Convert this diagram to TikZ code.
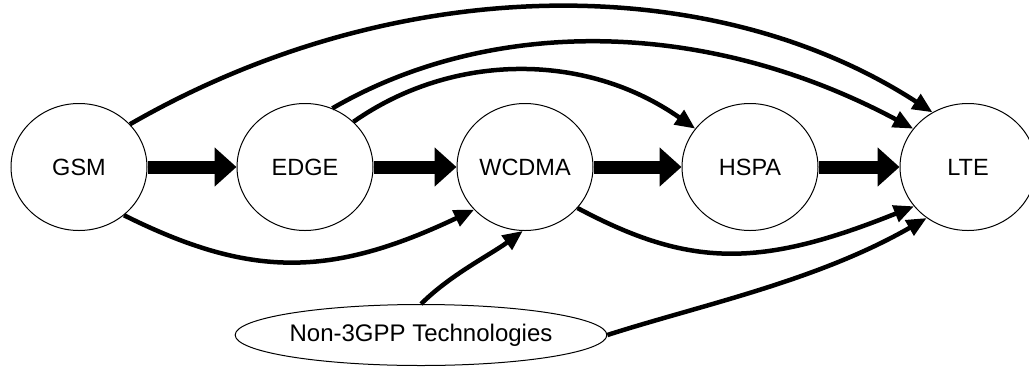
\documentclass[tikz,border=0pt]{standalone}
\usepackage{fontspec}
\setmainfont{Liberation Sans}
\usetikzlibrary{arrows.meta,shapes.geometric}
\begin{document}
\begin{tikzpicture}[x=1pt,y=-1pt,
  tech/.style={ellipse,draw,fill=white,line width=1pt,minimum width=136pt,minimum height=127pt,inner sep=0pt,font=\fontsize{23.5}{28}\selectfont},
  other/.style={ellipse,draw,fill=white,line width=1pt,minimum width=342pt,minimum height=61pt,inner sep=0pt,font=\fontsize{24}{28}\selectfont},
  bigarrow/.style={line width=13pt,-{Triangle[length=22pt,width=38pt]}},
  curvearrow/.style={line width=4.5pt,-{Triangle[length=20pt,width=17pt]}}]
\useasboundingbox (0,0) rectangle (1029,368);
\node[tech] (gsm) at (79,167) {GSM};
\node[tech] (edge) at (305,167) {EDGE};
\node[tech] (wcdma) at (525,167) {WCDMA};
\node[tech] (hspa) at (750,167) {HSPA};
\node[tech] (lte) at (968,167) {LTE};
\node[other] (non) at (421,335) {Non-3GPP Technologies};

\draw[bigarrow] (gsm.east) -- (edge.west);
\draw[bigarrow] (edge.east) -- (wcdma.west);
\draw[bigarrow] (wcdma.east) -- (hspa.west);
\draw[bigarrow] (hspa.east) -- (lte.west);

\draw[curvearrow] (gsm.40) .. controls (398,-30) and (713,-30) .. (lte.123);
\draw[curvearrow] (edge.65) .. controls (490,17) and (704,17) .. (lte.145);
\draw[curvearrow] (edge.43) .. controls (453,52) and (586,52) .. (hspa.145);
\draw[curvearrow] (gsm.-47) .. controls (250,278) and (330,278) .. (wcdma.-140);
\draw[curvearrow] (non.north) .. controls (450,275) and (490,255) .. (wcdma.-92);
\draw[curvearrow] (wcdma.-38) .. controls (690,268) and (760,268) .. (lte.-144);
\draw[curvearrow] (non.east) .. controls (701,305) and (817,281) .. (lte.-129);
\end{tikzpicture}
\end{document}
